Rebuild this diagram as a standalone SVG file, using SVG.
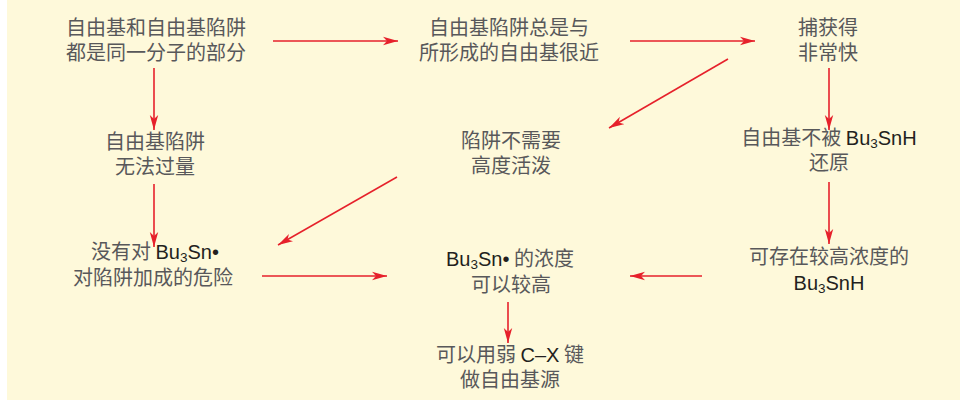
<svg xmlns="http://www.w3.org/2000/svg" width="960" height="403" viewBox="0 0 960 403">
<defs>
<style>
text{font-family:"Noto Sans CJK SC","Noto Sans",sans-serif;font-size:20px;fill:#58585a;text-anchor:middle}
.l{font-family:"Liberation Sans",Arial,sans-serif;fill:#231f20}
.s{font-family:"Liberation Sans",Arial,sans-serif;fill:#231f20;font-size:13.5px}
.c line{stroke:#e6212b;stroke-width:1.6;marker-end:url(#ah)}
</style>
<marker id="ah" markerUnits="userSpaceOnUse" markerWidth="16" markerHeight="10" refX="15" refY="5" orient="auto" viewBox="0 0 16 10">
<path d="M0,0.8 L15,5 L0,9.2 L4,5 z" fill="#e6212b"/>
</marker>
</defs>
<rect x="7" y="0" width="953" height="400" fill="#fef9da"/>
<g class="c" id="connectors">
<line x1="273" y1="41" x2="398" y2="41"/>
<line x1="630" y1="41" x2="755" y2="41"/>
<line x1="154" y1="68" x2="154" y2="130"/>
<line x1="829" y1="68" x2="829" y2="130"/>
<line x1="728" y1="59" x2="609" y2="128"/>
<line x1="154" y1="184" x2="154" y2="247"/>
<line x1="397" y1="177" x2="278" y2="245"/>
<line x1="829" y1="182" x2="829" y2="244"/>
<line x1="262" y1="276" x2="387" y2="276"/>
<line x1="702" y1="276" x2="630" y2="276"/>
<line x1="508" y1="302" x2="508" y2="343"/>
</g>
<g id="nA"><text x="156" y="35">自由基和自由基陷阱</text><text x="156" y="60">都是同一分子的部分</text></g>
<g id="nB"><text x="509" y="35">自由基陷阱总是与</text><text x="509" y="60">所形成的自由基很近</text></g>
<g id="nC"><text x="828" y="35">捕获得</text><text x="828" y="60">非常快</text></g>
<g id="nD"><text x="155" y="149">自由基陷阱</text><text x="155" y="174">无法过量</text></g>
<g id="nE"><text x="511" y="148">陷阱不需要</text><text x="511" y="173">高度活泼</text></g>
<g id="nF"><text x="829" y="145">自由基不被 <tspan class="l">Bu</tspan><tspan class="s" dy="3">3</tspan><tspan class="l" dy="-3">SnH</tspan></text><text x="829" y="170">还原</text></g>
<g id="nG"><text x="155" y="259">没有对 <tspan class="l">Bu</tspan><tspan class="s" dy="3">3</tspan><tspan class="l" dy="-3">Sn•</tspan></text><text x="153" y="285">对陷阱加成的危险</text></g>
<g id="nH"><text x="510" y="266"><tspan class="l">Bu</tspan><tspan class="s" dy="3">3</tspan><tspan class="l" dy="-3">Sn•</tspan> 的浓度</text><text x="511" y="292">可以较高</text></g>
<g id="nI"><text x="829" y="264">可存在较高浓度的</text><text x="829" y="290" class="l"><tspan class="l">Bu</tspan><tspan class="s" dy="3">3</tspan><tspan class="l" dy="-3">SnH</tspan></text></g>
<g id="nJ"><text x="510" y="362">可以用弱 <tspan class="l">C–X</tspan> 键</text><text x="510" y="387">做自由基源</text></g>
</svg>
